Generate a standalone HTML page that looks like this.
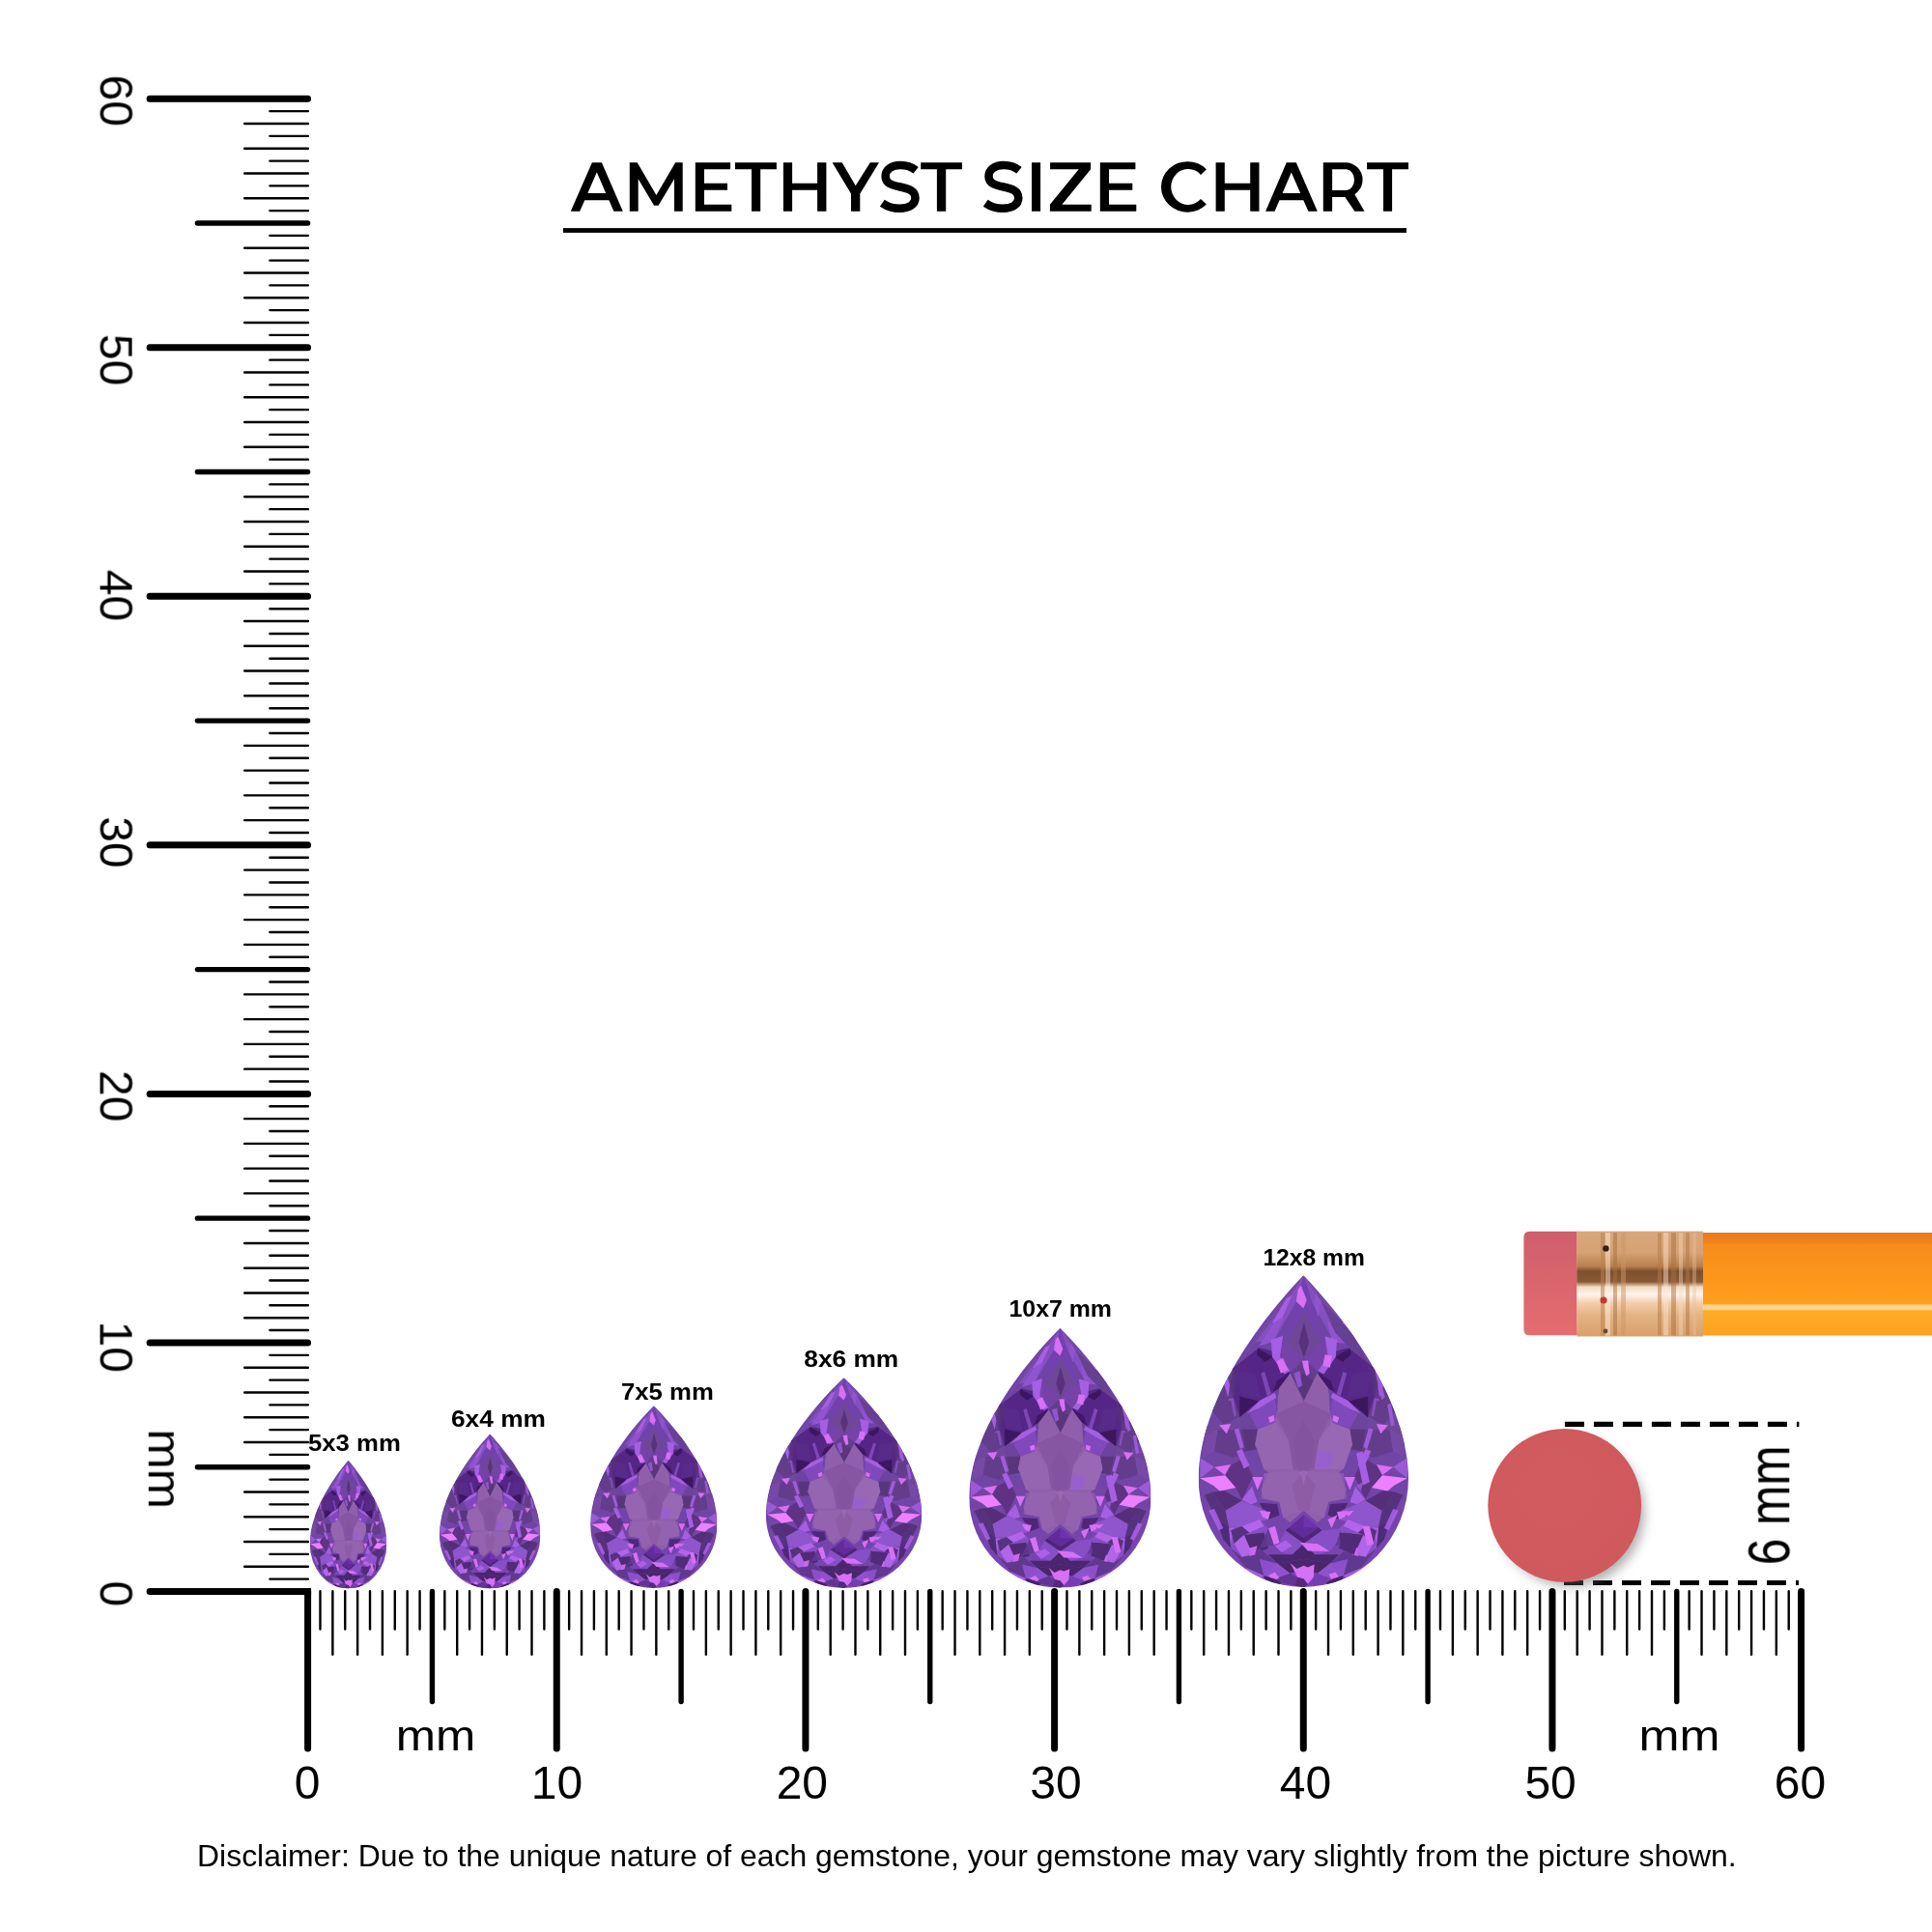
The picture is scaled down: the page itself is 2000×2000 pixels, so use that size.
<!DOCTYPE html>
<html lang="en"><head><meta charset="utf-8"><title>Amethyst Size Chart</title>
<style>
html,body{margin:0;padding:0;background:#fff}
body{width:2000px;height:2000px;overflow:hidden;font-family:"Liberation Sans",sans-serif}
svg{display:block}
</style></head><body>
<svg width="2000" height="2000" viewBox="0 0 2000 2000">
<rect width="2000" height="2000" fill="#fff"/>
<defs>
<linearGradient id="gbase" x1="0" y1="0" x2="0" y2="1"><stop offset="0" stop-color="#7042a8"/><stop offset="0.5" stop-color="#6f45a2"/><stop offset="1" stop-color="#7a44b2"/></linearGradient>
<filter id="gblur" x="-5%" y="-5%" width="110%" height="110%"><feGaussianBlur stdDeviation="0.7"/></filter>
<symbol id="gem" viewBox="0 0 217.4 322.8" preserveAspectRatio="none"><clipPath id="gclip"><path d="M108.7 0C156.7 50 216.4 132 217.4 210A108.7 112.8 0 0 1 108.7 322.8A108.7 112.8 0 0 1 0 210C1 132 60.7 50 108.7 0Z"/></clipPath><g clip-path="url(#gclip)"><rect width="217.4" height="322.8" fill="url(#gbase)"/><g filter="url(#gblur)"><polygon fill="#754aa2" points="109.2,-0 76.4,39.5 44.1,87.9 59,69.3 88.8,30.8"/><polygon fill="#754aa2" points="109.2,-0 141.9,39.5 174.2,87.9 159.3,69.3 129.5,30.8"/><polygon fill="#844fc0" points="109.2,-0 88.8,30.8 59,69.3 78.8,66.8 101.2,27.1"/><polygon fill="#844fc0" points="109.2,-0 129.5,30.8 159.3,69.3 139.5,66.8 117.1,27.1"/><polygon fill="#7340b0" points="109.2,-0 101.2,27.1 90.3,69.3 109.2,37"/><polygon fill="#7340b0" points="109.2,-0 117.1,27.1 128,69.3 109.2,37"/><polygon fill="#704798" points="109.2,37 127.9,69.3 109.2,86.1 90.3,69.3"/><polygon fill="#58337c" points="109.2,48.2 114.6,69.3 109.2,85.2 103.9,69.3"/><polygon fill="#d76ff3" points="106.2,10.3 112.1,25.8 108.7,34.3 101.2,27.1 103.1,14.6"/><polygon fill="#a55fe2" points="91.3,23.3 97,20.9 84.8,48.2 76.4,49.4"/><polygon fill="#9253cf" points="78.8,48.2 89.5,42 76.6,69.3 62.7,73"/><polygon fill="#9253cf" points="121.1,18.4 126.8,27.1 124.3,43.2 119.8,30.8"/><polygon fill="#9253cf" points="132.3,43.2 141.7,59.4 152.4,70.5 138.5,69.3"/><polygon fill="#d76ff3" points="146.9,50.4 153.6,45.9 155.4,48.9 148.7,53.7"/><polygon fill="#663f92" points="127.3,27.1 159.6,59.4 174.5,89.2 152.1,70.5 141.7,59.4"/><polygon fill="#7443a8" points="90.3,69.3 109.2,86.1 94.7,101.6 78.8,79.2"/><polygon fill="#7443a8" points="128,69.3 109.2,86.1 123.6,101.6 139.5,79.2"/><polygon fill="#552785" points="35.1,96.9 62.7,75 79.1,79 95.2,100.4 81.6,125.5 76.4,123.7 62.7,130.7 42.6,147.3 34.4,126.4"/><polygon fill="#552785" points="183.2,96.9 155.6,75 139.2,79 123.1,100.4 136.7,125.5 141.9,123.7 155.6,130.7 175.7,147.3 183.9,126.4"/><polygon fill="#3e175f" points="61.4,75.8 77.1,84.5 68.9,89.9 60.5,82"/><polygon fill="#3e175f" points="156.9,75.8 141.2,84.5 149.4,89.9 157.8,82"/><polygon fill="#3e175f" points="42.6,125.5 62.7,130.2 42.8,147.1"/><polygon fill="#3e175f" points="175.7,125.5 155.6,130.2 175.5,147.1"/><polygon fill="#3e175f" opacity="0.8" points="81.3,109.1 95,100.4 81.3,125.2 76.4,123.3"/><polygon fill="#3e175f" opacity="0.8" points="137,109.1 123.3,100.4 137,125.2 141.9,123.3"/><polygon fill="#643197" opacity="0.3" points="39.1,99.1 59,101.6 63.9,127.7 44.1,124"/><polygon fill="#643197" opacity="0.3" points="179.2,99.1 159.3,101.6 154.4,127.7 174.2,124"/><polygon fill="#a55fe2" points="75.1,66.8 87.5,62.5 84.4,84.2 95,99.1 88.8,102.2 76.4,84.2"/><polygon fill="#d76ff3" points="80.7,89.2 87.5,85.7 92.8,97.9 85.3,101.6"/><polygon fill="#a55fe2" points="143.4,66.8 131,63.1 134.1,84.2 123.6,99.1 129.8,102.2 142.2,84.2"/><polygon fill="#d76ff3" points="131,82 138.5,83.2 136.2,95.6 128.8,93.2"/><polygon fill="#9253cf" opacity="0.7" points="64.7,101.6 68.4,99.6 75.6,123.3 71.4,125.9"/><polygon fill="#9253cf" opacity="0.7" points="153.6,101.6 149.9,99.6 142.7,123.3 146.9,125.9"/><polygon fill="#643d8b" points="109.2,86.1 124.8,101.6 109.2,130.2 94.7,101.6"/><polygon fill="#5a367c" points="109.2,101.6 118.6,109.1 109.2,128.9 100,109.1"/><polygon fill="#d76ff3" points="107.4,88.2 113.6,88.2 115.1,101.6 111.8,104.3 108.7,95.4"/><polygon fill="#9253cf" points="98.7,101.6 104.9,99.1 107.4,114 103.1,116.5"/><polygon fill="#643d8b" points="19.8,115.3 37.2,97.9 36.6,125.2 42.8,146.3 26.7,155 13.6,140.1"/><polygon fill="#643d8b" points="198.5,115.3 181.1,97.9 181.7,125.2 175.5,146.3 191.6,155 204.7,140.1"/><polygon fill="#a55fe2" points="25.4,109.1 30.6,106.6 35.6,126.4 31.9,130.2"/><polygon fill="#a55fe2" points="192.9,109.1 187.7,106.6 182.7,126.4 186.4,130.2"/><polygon fill="#9253cf" opacity="0.8" points="31,115.3 33.6,114 39.3,145.1 36.9,146.6"/><polygon fill="#9253cf" opacity="0.8" points="187.3,115.3 184.7,114 179,145.1 181.4,146.6"/><polygon fill="#704798" points="8,155.6 26.7,155 42.8,146.3 41.6,166.2 20.5,183.6 4.3,176.1"/><polygon fill="#704798" points="210.3,155.6 191.6,155 175.5,146.3 176.7,166.2 197.8,183.6 214,176.1"/><polygon fill="#6e429f" points="41.5,148.1 63.2,129.9 83.1,117.4 81.4,143.6 78,152.7 61.5,159.5 45,159.5"/><polygon fill="#6e429f" points="176.4,148.1 154.8,129.9 134.8,117.4 136.5,143.6 139.9,152.7 156.5,159.5 173,159.5"/><polygon fill="#844cc2" opacity="0.8" points="52.9,143.6 79.1,127.6 81.4,143.6 78,152.7 61.5,159.5"/><polygon fill="#844cc2" opacity="0.8" points="165,143.6 138.8,127.6 136.5,143.6 139.9,152.7 156.5,159.5"/><polygon fill="#a55fe2" points="49.5,143.6 63.2,129.9 79.1,121.9 80.8,126.5 63.2,137.3"/><polygon fill="#a55fe2" points="168.4,143.6 154.8,129.9 138.8,121.9 137.1,126.5 154.8,137.3"/><polygon fill="#d76ff3" points="72.3,147 78,144.7 79.1,150.4 74,152.7"/><polygon fill="#d76ff3" points="145.6,147 139.9,144.7 138.8,150.4 143.9,152.7"/><polygon fill="#5a367c" points="45,159.5 61.5,159.5 58.6,175.5 61.5,180 48.4,182.3"/><polygon fill="#5a367c" points="173,159.5 156.5,159.5 159.3,175.5 156.5,180 169.6,182.3"/><polygon fill="#643d8b" points="19.9,159.5 45,159.5 48.4,182.3 37,189.1 16.5,182.3"/><polygon fill="#643d8b" points="198,159.5 173,159.5 169.6,182.3 180.9,189.1 201.5,182.3"/><polygon fill="#7749a6" points="6.2,166.4 19.9,159.5 16.5,182.3 4,189.1"/><polygon fill="#7749a6" points="211.7,166.4 198,159.5 201.5,182.3 214,189.1"/><polygon fill="#d76ff3" points="21.6,155 33.6,153.8 29.2,164.1"/><polygon fill="#d76ff3" points="196.3,155 184.4,153.8 188.7,164.1"/><polygon fill="#a55fe2" opacity="0.9" points="37,159.5 41.8,158.4 47.2,177.7 43.2,180"/><polygon fill="#a55fe2" opacity="0.9" points="180.9,159.5 176.2,158.4 170.7,177.7 174.7,180"/><polygon fill="#905fac" points="109,130.5 95.1,101.4 83.1,117.4 81.4,143.6 78,152.7 61.5,159.5 58.6,175.5 61.5,180 67.7,200.5 72.3,203.9 64.9,222.2 64.9,222.2 67.7,231.3 83.7,234.5 87.7,250.4 94.8,255.9 109,243.6 123.1,255.9 130.3,250.4 134.3,234.5 150.2,231.3 153,222.2 153,222.2 145.6,203.9 150.2,200.5 156.5,180 159.3,175.5 156.5,159.5 139.9,152.7 136.5,143.6 134.8,117.4 122.9,101.4"/><polygon fill="#8756a3" points="109,130.5 137.8,143.6 124.7,170.9 120.1,200.5 109,203.9 97.9,200.5 93.4,170.9 80.3,143.6"/><polygon fill="#7b489a" opacity="0.3" points="109,150.4 120.1,170.9 116.7,198.3 109,203.4 101.3,198.3 97.9,170.9"/><polygon fill="#9969b6" opacity="0.6" points="61.5,159.5 80.3,152.7 93.4,170.9 97.9,200.5 67.7,200.5 58.6,175.5"/><polygon fill="#9969b6" opacity="0.9" points="156.6,159.5 137.8,152.7 124.7,170.9 120.1,200.5 150.3,200.5 159.4,175.5"/><polygon fill="#995fd2" opacity="0.8" points="124.7,180 140.1,186.9 134.4,200.5 120.1,200.5"/><polygon fill="#9766b3" opacity="0.6" points="67.7,204.9 109,202.6 150.3,204.9 153.2,231.1 134.9,234.5 130.4,250.4 109,243.6 87.7,250.4 83.7,234.5 64.9,231.1"/><polygon fill="#89579f" opacity="0.6" points="109,202.6 121.3,217.4 114.4,243.6 109,244.7 103.6,243.6 96.8,217.4"/><polygon fill="#a070bb" opacity="0.6" points="105.3,203.7 109,201.4 112.7,203.7 109,217.4"/><polygon fill="#622c9a" points="109,248.1 124.7,261.2 109,271.5 93.4,261.2"/><polygon fill="#7739ba" opacity="0.6" points="109,248.1 124.7,261.2 109,260.9"/><polygon fill="#4e277a" points="93.4,261.2 109,271.5 124.7,261.2 127.9,264.3 109,277.7 90.2,264.3"/><polygon fill="#a55fe2" opacity="0.8" points="1.7,188.9 16.5,198.6 1.7,210"/><polygon fill="#a55fe2" opacity="0.8" points="216.3,188.9 201.5,198.6 216.3,210"/><polygon fill="#d76ff3" points="16.5,198.6 33.6,195.7 27.4,206.7"/><polygon fill="#d76ff3" points="201.5,198.6 184.4,195.7 190.5,206.7"/><polygon fill="#ec80ff" points="1.7,210 27.9,207.1 38.8,219.7 22.2,223.3 15.3,217.6"/><polygon fill="#ec80ff" points="216.3,210 190.1,207.1 179.1,219.7 195.8,223.3 202.6,217.6"/><polygon fill="#542f7a" points="14.2,224.2 26.7,223.1 45.2,233.3 27.9,243.8"/><polygon fill="#542f7a" points="203.7,224.2 191.2,223.1 172.7,233.3 190.1,243.8"/><polygon fill="#5f3383" points="33.6,196.9 47.2,188.9 56.3,208.3 45,232.2 38.8,219.7 27.9,207.1"/><polygon fill="#5f3383" points="184.4,196.9 170.7,188.9 161.6,208.3 173,232.2 179.1,219.7 190.1,207.1"/><polygon fill="#a55fe2" points="39.3,182.1 45,179.8 52.9,196.9 47.2,200.3"/><polygon fill="#a55fe2" points="178.7,182.1 173,179.8 165,196.9 170.7,200.3"/><polygon fill="#d76ff3" points="55.8,208.8 66.8,208.8 61.1,222.2"/><polygon fill="#d76ff3" points="162.2,208.8 151.1,208.8 156.8,222.2"/><polygon fill="#a55fe2" points="45,232.4 55.4,218.5 61.1,234.7 54.1,237"/><polygon fill="#a55fe2" points="173,232.4 162.5,218.5 156.8,234.7 163.9,237"/><polygon fill="#4f2878" points="63.2,235.6 81.6,236.7 83.9,248.4 72.3,252.9"/><polygon fill="#4f2878" points="154.8,235.6 136.3,236.7 134,248.4 145.6,252.9"/><polygon fill="#8f55cc" points="27.9,243.8 45.2,233.3 70,243.6 72.3,252.9 45,259.8 31.3,259.8"/><polygon fill="#8f55cc" points="190.1,243.8 172.7,233.3 147.9,243.6 145.6,252.9 173,259.8 186.6,259.8"/><polygon fill="#d76ff3" points="63.2,243.6 74.6,244.9 72.3,252.9 66.6,250.4"/><polygon fill="#d76ff3" points="154.8,243.6 143.4,244.9 145.6,252.9 151.3,250.4"/><polygon fill="#56307c" points="6.2,227.6 14.2,224.2 27.9,243.8 31.3,259.8 18.8,252.7"/><polygon fill="#56307c" points="211.7,227.6 203.7,224.2 190.1,243.8 186.6,259.8 199.2,252.7"/><polygon fill="#d76ff3" points="72.3,262 79.4,259.5 83.9,276.8 78,279.1"/><polygon fill="#d76ff3" points="133.8,252.7 144,248.1 137.8,261.8"/><polygon fill="#d76ff3" points="148.6,245.3 161.1,243.6 155.4,249.3"/><polygon fill="#8950c6" opacity="0.9" points="30.2,259.8 45,259.8 63.2,252.9 72.3,262 78,279.1 63.2,282.5 45,291.6 33.6,282.5"/><polygon fill="#8950c6" opacity="0.9" points="187.8,259.8 173,259.8 154.8,252.9 145.6,262 139.9,279.1 154.8,282.5 173,291.6 184.4,282.5"/><polygon fill="#502c74" points="47.2,268.9 68,266.4 72.5,282.5 56.3,289.4"/><polygon fill="#502c74" points="170.7,268.9 150,266.4 145.4,282.5 161.6,289.4"/><polygon fill="#a55fe2" points="31.3,261.8 37,260.7 33.6,277.7 30.2,275.5"/><polygon fill="#a55fe2" points="186.6,261.8 180.9,260.7 184.4,277.7 187.8,275.5"/><polygon fill="#874fc4" points="83.9,276.8 90.2,264.3 109,277.7 97.3,289.1 86,286.9"/><polygon fill="#874fc4" points="134,276.8 127.8,264.3 109,277.7 120.6,289.1 132,286.9"/><polygon fill="#4a276e" points="72.3,289.1 97.3,289.1 109,277.7 120.6,289.1 145.6,289.1 136.1,298.3 109,293.7 81.9,298.3"/><polygon fill="#d76ff3" points="105.3,276.6 124.1,278 136.1,285.7 113.3,285.2"/><polygon fill="#ac5fe8" points="79.1,280 90.5,274.3 97.3,280 86,286.9"/><polygon fill="#613890" points="33.6,282.5 45,291.6 63.2,282.5 81.9,298.3 67.7,310.8 49.5,302.8"/><polygon fill="#613890" points="184.4,282.5 173,291.6 154.8,282.5 136.1,298.3 150.2,310.8 168.4,302.8"/><polygon fill="#9253cf" opacity="0.9" points="63.2,293.7 81.9,298.3 95.1,308.5 79.1,314.2 67.7,310.8"/><polygon fill="#9253cf" opacity="0.9" points="154.8,293.7 136.1,298.3 122.9,308.5 138.8,314.2 150.2,310.8"/><polygon fill="#49266c" points="81.9,298.3 109,293.7 136.1,298.3 122.9,308.5 109,303.9 95.1,308.5"/><polygon fill="#d76ff3" points="95.1,297.7 101.9,303.9 109,300.5 113.3,302.2 120.1,299.4 119,313.1 113.3,319.9 109,314.2 102.5,312.5"/><polygon fill="#522a7c" points="102.5,312.5 109,314.2 113.3,319.9 109,323.5 99.6,321"/><polygon fill="#743eb2" points="119,313.1 122.9,308.5 136.1,314.2 124.7,321 113.3,319.9"/><polygon fill="#633693" points="79.1,314.2 95.1,308.5 102.5,312.5 99.6,321 86,318.2"/><polygon fill="#d76ff3" points="72.3,310.8 79.1,307.4 83.7,313.1 78,316.5"/><polygon fill="#d76ff3" points="134.9,309.6 141.8,307.4 145.2,311.9 138.4,316.5"/><polygon fill="#57307e" points="33.6,264.1 45,259.8 52.9,266.4 47.2,268.9 37,277.7"/><polygon fill="#57307e" points="184.4,264.1 173,259.8 165,266.4 170.7,268.9 180.9,277.7"/><polygon fill="#b365ea" points="45,259.8 63.2,252.9 67.7,259.5 52.9,266.4"/><polygon fill="#b365ea" points="173,259.8 154.8,252.9 150.2,259.5 165,266.4"/><polygon fill="#613790" opacity="0.9" points="63.2,282.5 72.3,262 78,279.1"/><polygon fill="#613790" opacity="0.9" points="154.8,282.5 145.6,262 139.9,279.1"/><polygon fill="#d76ff3" opacity="0.9" points="52.9,282.3 60.9,280 58.6,289.1 52.9,290.8"/><polygon fill="#d76ff3" opacity="0.9" points="165,282.3 157,280 159.3,289.1 165,290.8"/><polygon fill="#bb6cf0" opacity="0.8" points="37,277.7 47.2,268.9 56.3,289.4 45,291.6"/><polygon fill="#bb6cf0" opacity="0.8" points="180.9,277.7 170.7,268.9 161.6,289.4 173,291.6"/><polygon fill="#502b78" points="18.8,252.7 31.3,259.8 33.6,282.5 25.6,273.2"/><polygon fill="#502b78" points="199.2,252.7 186.6,259.8 184.4,282.5 192.3,273.2"/><polygon fill="#a55fe2" opacity="0.9" points="10.8,243.6 16.5,241.9 25.6,261.8 21,264.1"/><polygon fill="#a55fe2" opacity="0.9" points="207.1,243.6 201.5,241.9 192.3,261.8 196.9,264.1"/><polygon fill="#a75fe4" opacity="0.9" points="49.5,302.8 67.7,310.8 63.2,315.3 48.4,307.4"/><polygon fill="#a75fe4" opacity="0.9" points="168.4,302.8 150.2,310.8 154.8,315.3 169.6,307.4"/><polygon fill="#452468" points="67.7,310.8 79.1,314.2 86,318.2 79.1,323.5 70,318.2"/><polygon fill="#452468" points="150.2,310.8 138.8,314.2 132,318.2 138.8,323.5 147.9,318.2"/><polygon fill="#d76ff3" points="170.2,259.8 177.1,259.5 181.6,277.7 174.8,280"/><polygon fill="#512a78" points="146.3,266.6 168,268.6 161.1,289.4 147.5,282.5"/><polygon fill="#864fc6" points="127.9,264.3 147.5,262 143.1,276.6 136.1,285.7 124.1,278"/><polygon fill="#a55fe2" points="163.4,184.4 170.2,182.1 177.3,214 170.2,217.4"/><polygon fill="#9253cf" points="163.4,217.6 170.5,214 168.2,223.3"/><polygon fill="#9a5ad8" points="183.2,101.6 186.3,99.1 193.1,126.4 189.6,128.9"/><polygon fill="#9a5ad8" points="195.6,133.9 199.3,132.7 203.1,155 199.3,156.3"/><polygon fill="#552f7c" opacity="0.8" points="174.5,89.2 183.2,101.6 188.2,128.9 180.7,126.4"/><polygon fill="#552f7c" opacity="0.8" points="43.8,89.2 35.1,101.6 30.1,128.9 37.6,126.4"/></g></g></symbol>
<filter id="dshadow" x="-30%" y="-30%" width="170%" height="170%"><feGaussianBlur stdDeviation="6"/></filter>
<radialGradient id="dotg" cx="0.45" cy="0.4" r="0.6"><stop offset="0" stop-color="#d15c60"/><stop offset="1" stop-color="#cf595d"/></radialGradient>
<linearGradient id="erg" x1="0" y1="0" x2="0" y2="1"><stop offset="0" stop-color="#cd5f6a"/><stop offset="0.45" stop-color="#d9646c"/><stop offset="1" stop-color="#e36d70"/></linearGradient>
<linearGradient id="feg" x1="0" y1="0" x2="0" y2="1"><stop offset="0" stop-color="#d9a77c"/><stop offset="0.2" stop-color="#d6a274"/><stop offset="0.33" stop-color="#b9824f"/><stop offset="0.38" stop-color="#7e4f2c"/><stop offset="0.48" stop-color="#8a5a36"/><stop offset="0.53" stop-color="#f6dcc4"/><stop offset="0.6" stop-color="#fff4ea"/><stop offset="0.68" stop-color="#f3cfae"/><stop offset="0.8" stop-color="#e4b283"/><stop offset="1" stop-color="#d9a06c"/></linearGradient>
<linearGradient id="pbg" x1="0" y1="0" x2="0" y2="1"><stop offset="0" stop-color="#e87a1e"/><stop offset="0.1" stop-color="#f0841d"/><stop offset="0.12" stop-color="#f68d1c"/><stop offset="0.55" stop-color="#fe991b"/><stop offset="0.69" stop-color="#ff9f1e"/><stop offset="0.705" stop-color="#ffd08a"/><stop offset="0.745" stop-color="#ffd596"/><stop offset="0.76" stop-color="#ffab25"/><stop offset="1" stop-color="#fda31f"/></linearGradient>
</defs>
<g fill="none" stroke="#000" stroke-linecap="round"><path stroke-width="2.4" d="M279.4 1634.62H318.9M331.48 1647.2V1686.5M279.4 1608.87H318.9M357.25 1647.2V1686.5M279.4 1583.11H318.9M383.02 1647.2V1686.5M279.4 1557.36H318.9M408.78 1647.2V1686.5M279.4 1531.6H318.9M434.55 1647.2V1686.5M279.4 1505.85H318.9M460.32 1647.2V1686.5M279.4 1480.09H318.9M486.08 1647.2V1686.5M279.4 1454.34H318.9M511.85 1647.2V1686.5M279.4 1428.58H318.9M537.62 1647.2V1686.5M279.4 1402.83H318.9M563.38 1647.2V1686.5M279.4 1377.07H318.9M589.15 1647.2V1686.5M279.4 1351.32H318.9M614.92 1647.2V1686.5M279.4 1325.56H318.9M640.68 1647.2V1686.5M279.4 1299.81H318.9M666.45 1647.2V1686.5M279.4 1274.05H318.9M692.22 1647.2V1686.5M279.4 1248.3H318.9M717.98 1647.2V1686.5M279.4 1222.54H318.9M743.75 1647.2V1686.5M279.4 1196.79H318.9M769.52 1647.2V1686.5M279.4 1171.03H318.9M795.28 1647.2V1686.5M279.4 1145.28H318.9M821.05 1647.2V1686.5M279.4 1119.52H318.9M846.82 1647.2V1686.5M279.4 1093.77H318.9M872.58 1647.2V1686.5M279.4 1068.01H318.9M898.35 1647.2V1686.5M279.4 1042.26H318.9M924.12 1647.2V1686.5M279.4 1016.5H318.9M949.88 1647.2V1686.5M279.4 990.75H318.9M975.65 1647.2V1686.5M279.4 964.99H318.9M1001.42 1647.2V1686.5M279.4 939.24H318.9M1027.18 1647.2V1686.5M279.4 913.48H318.9M1052.95 1647.2V1686.5M279.4 887.73H318.9M1078.72 1647.2V1686.5M279.4 861.97H318.9M1104.48 1647.2V1686.5M279.4 836.22H318.9M1130.25 1647.2V1686.5M279.4 810.46H318.9M1156.02 1647.2V1686.5M279.4 784.71H318.9M1181.78 1647.2V1686.5M279.4 758.95H318.9M1207.55 1647.2V1686.5M279.4 733.2H318.9M1233.32 1647.2V1686.5M279.4 707.44H318.9M1259.08 1647.2V1686.5M279.4 681.69H318.9M1284.85 1647.2V1686.5M279.4 655.93H318.9M1310.62 1647.2V1686.5M279.4 630.18H318.9M1336.38 1647.2V1686.5M279.4 604.42H318.9M1362.15 1647.2V1686.5M279.4 578.67H318.9M1387.92 1647.2V1686.5M279.4 552.91H318.9M1413.68 1647.2V1686.5M279.4 527.16H318.9M1439.45 1647.2V1686.5M279.4 501.4H318.9M1465.22 1647.2V1686.5M279.4 475.65H318.9M1490.98 1647.2V1686.5M279.4 449.89H318.9M1516.75 1647.2V1686.5M279.4 424.14H318.9M1542.52 1647.2V1686.5M279.4 398.38H318.9M1568.28 1647.2V1686.5M279.4 372.63H318.9M1594.05 1647.2V1686.5M279.4 346.87H318.9M1619.82 1647.2V1686.5M279.4 321.12H318.9M1645.58 1647.2V1686.5M279.4 295.36H318.9M1671.35 1647.2V1686.5M279.4 269.61H318.9M1697.12 1647.2V1686.5M279.4 243.85H318.9M1722.88 1647.2V1686.5M279.4 218.1H318.9M1748.65 1647.2V1686.5M279.4 192.34H318.9M1774.42 1647.2V1686.5M279.4 166.59H318.9M1800.18 1647.2V1686.5M279.4 140.83H318.9M1825.95 1647.2V1686.5M279.4 115.08H318.9M1851.72 1647.2V1686.5"/><path stroke-width="2.4" d="M253.2 1621.74H318.9M344.37 1647.2V1712.8M253.2 1595.99H318.9M370.13 1647.2V1712.8M253.2 1570.23H318.9M395.9 1647.2V1712.8M253.2 1544.48H318.9M421.67 1647.2V1712.8M253.2 1492.97H318.9M473.2 1647.2V1712.8M253.2 1467.21H318.9M498.97 1647.2V1712.8M253.2 1441.46H318.9M524.73 1647.2V1712.8M253.2 1415.7H318.9M550.5 1647.2V1712.8M253.2 1364.19H318.9M602.03 1647.2V1712.8M253.2 1338.44H318.9M627.8 1647.2V1712.8M253.2 1312.68H318.9M653.57 1647.2V1712.8M253.2 1286.93H318.9M679.33 1647.2V1712.8M253.2 1235.42H318.9M730.87 1647.2V1712.8M253.2 1209.66H318.9M756.63 1647.2V1712.8M253.2 1183.91H318.9M782.4 1647.2V1712.8M253.2 1158.15H318.9M808.17 1647.2V1712.8M253.2 1106.64H318.9M859.7 1647.2V1712.8M253.2 1080.89H318.9M885.47 1647.2V1712.8M253.2 1055.13H318.9M911.23 1647.2V1712.8M253.2 1029.38H318.9M937 1647.2V1712.8M253.2 977.87H318.9M988.53 1647.2V1712.8M253.2 952.12H318.9M1014.3 1647.2V1712.8M253.2 926.36H318.9M1040.07 1647.2V1712.8M253.2 900.61H318.9M1065.83 1647.2V1712.8M253.2 849.1H318.9M1117.37 1647.2V1712.8M253.2 823.34H318.9M1143.13 1647.2V1712.8M253.2 797.59H318.9M1168.9 1647.2V1712.8M253.2 771.83H318.9M1194.67 1647.2V1712.8M253.2 720.32H318.9M1246.2 1647.2V1712.8M253.2 694.57H318.9M1271.97 1647.2V1712.8M253.2 668.81H318.9M1297.73 1647.2V1712.8M253.2 643.06H318.9M1323.5 1647.2V1712.8M253.2 591.55H318.9M1375.03 1647.2V1712.8M253.2 565.79H318.9M1400.8 1647.2V1712.8M253.2 540.04H318.9M1426.57 1647.2V1712.8M253.2 514.28H318.9M1452.33 1647.2V1712.8M253.2 462.77H318.9M1503.87 1647.2V1712.8M253.2 437.02H318.9M1529.63 1647.2V1712.8M253.2 411.26H318.9M1555.4 1647.2V1712.8M253.2 385.51H318.9M1581.17 1647.2V1712.8M253.2 334H318.9M1632.7 1647.2V1712.8M253.2 308.24H318.9M1658.47 1647.2V1712.8M253.2 282.49H318.9M1684.23 1647.2V1712.8M253.2 256.73H318.9M1710 1647.2V1712.8M253.2 205.22H318.9M1761.53 1647.2V1712.8M253.2 179.47H318.9M1787.3 1647.2V1712.8M253.2 153.71H318.9M1813.07 1647.2V1712.8M253.2 127.96H318.9M1838.83 1647.2V1712.8"/><path stroke-width="5.4" d="M204.4 1518.72H318.6M447.43 1647.5V1761.6M204.4 1261.17H318.6M705.1 1647.5V1761.6M204.4 1003.62H318.6M962.77 1647.5V1761.6M204.4 746.08H318.6M1220.43 1647.5V1761.6M204.4 488.53H318.6M1478.1 1647.5V1761.6M204.4 230.98H318.6M1735.77 1647.5V1761.6"/><path stroke-width="7" d="M155.1 1647.5H318.6M318.6 1647.5V1810M155.1 1389.95H318.6M576.27 1647.5V1810M155.1 1132.4H318.6M833.93 1647.5V1810M155.1 874.85H318.6M1091.6 1647.5V1810M155.1 617.3H318.6M1349.27 1647.5V1810M155.1 359.75H318.6M1606.93 1647.5V1810M155.1 102.2H318.6M1864.6 1647.5V1810"/></g><rect x="315.1" y="1644" width="7" height="7" fill="#000"/>
<g font-family="'Liberation Sans', sans-serif" font-size="48" fill="#000" text-anchor="middle" opacity="0.999"><text x="318.2" y="1861.6">0</text><text x="576.47" y="1861.6">10</text><text x="830.33" y="1861.6">20</text><text x="1093" y="1861.6">30</text><text x="1351.47" y="1861.6">40</text><text x="1605.13" y="1861.6">50</text><text x="1863.5" y="1861.6">60</text><text transform="translate(103.6 1649.7) rotate(90)">0</text><text transform="translate(103.6 1394.3) rotate(90)">10</text><text transform="translate(103.6 1134.7) rotate(90)">20</text><text transform="translate(103.6 871.9) rotate(90)">30</text><text transform="translate(103.6 616.5) rotate(90)">40</text><text transform="translate(103.6 372.6) rotate(90)">50</text><text transform="translate(103.6 104.3) rotate(90)">60</text></g>
<g font-family="'Liberation Sans', sans-serif" fill="#000" text-anchor="middle" opacity="0.999"><text font-size="45" transform="translate(451 1811.6) scale(1.1 1)">mm</text><text font-size="45" transform="translate(1738.5 1811.8) scale(1.12 1)">mm</text><text font-size="48" transform="translate(153.8 1520.7) rotate(90) scale(1.03 1)">mm</text><text font-size="62" transform="translate(1852.3 1558.3) rotate(-90) scale(0.8 1)">6 mm</text></g>
<path fill="#000" fill-rule="evenodd" d="M590.8 218.8L612.9 168.2L622.9 168.2L644.8 218.8L635.4 218.8L630.4 207.2L605.3 207.2L600.2 218.8ZM608.4 199.9L617.8 178.3L627.2 199.9ZM651.8 218.8L651.8 168.2L659.7 168.2L679.4 202L699.2 168.2L706.7 168.2L706.7 218.8L698 218.8L698 185.2L681.6 212.8L677.1 212.8L660.7 185.2L660.7 218.8ZM719.8 168.2L756.1 168.2L756.1 175.3L729 175.3L729 189.7L753 189.7L753 196.8L729 196.8L729 211.7L757.3 211.7L757.3 218.8L719.8 218.8ZM761 168.2L803.9 168.2L803.9 175.3L787.2 175.3L787.2 218.8L778 218.8L778 175.3L761 175.3ZM810.9 168.2L820.1 168.2L820.1 189.7L846.1 189.7L846.1 168.2L855.4 168.2L855.4 218.8L846.1 218.8L846.1 196.8L820.1 196.8L820.1 218.8L810.9 218.8ZM861.6 168.2L871.7 168.2L885.7 192.3L900.8 168.2L910 168.2L890.3 200.5L890.3 218.8L881 218.8L881 200.5ZM953.2 168.2L995.9 168.2L995.9 175.3L979.2 175.3L979.2 218.8L969.9 218.8L969.9 175.3L953.2 175.3ZM1068 168.2L1077.1 168.2L1077.1 218.8L1068 218.8ZM1087.1 168.2L1129.1 168.2L1129.1 175.3L1099.4 211.7L1129.7 211.7L1129.7 218.8L1086.9 218.8L1086.9 211.7L1116.7 175.3L1087.1 175.3ZM1138.8 168.2L1175.4 168.2L1175.4 175.3L1148 175.3L1148 189.7L1172.3 189.7L1172.3 196.8L1148 196.8L1148 211.7L1176.3 211.7L1176.3 218.8L1138.8 218.8ZM1248.9 175.3A27.2 26.25 0 1 0 1248.9 211.5L1243 205.9A17.7 18.5 0 1 1 1243 180.9ZM1258.6 168.2L1267.8 168.2L1267.8 189.7L1294.2 189.7L1294.2 168.2L1303.5 168.2L1303.5 218.8L1294.2 218.8L1294.2 196.8L1267.8 196.8L1267.8 218.8L1258.6 218.8ZM1310.1 218.8L1331.8 168.2L1341.8 168.2L1363.8 218.8L1354.4 218.8L1349.3 207.2L1324.5 207.2L1319.5 218.8ZM1327.6 199.9L1336.8 178.4L1346.2 199.9ZM1369.8 168.2H1394A17.9 17.9 0 0 1 1394 203.9H1379.1V218.8H1369.8ZM1379.1 197H1394A8.8 10.9 0 0 0 1394 175.3H1379.1ZM1415 168.2L1458 168.2L1458 175.3L1441.1 175.3L1441.1 218.8L1432 218.8L1432 175.3L1415 175.3Z"/><path fill="#000" d="M1391 202L1401.5 199.8L1412.5 218.8L1402.4 218.8Z"/><path fill="none" stroke="#000" stroke-width="8.5" d="M948.1 176.2C944.1 173 938.6 171 932 171C923 171 916.6 175.4 916.6 182.4C916.6 189.8 923.5 191.8 932 193.5C940.8 195.3 947.5 197.6 947.5 205C947.5 211.9 940.5 215.8 931.5 215.8C924.3 215.8 917.6 213.2 913.3 210.2M1055 176.2C1051 173 1045.5 171 1038.9 171C1029.9 171 1023.5 175.4 1023.5 182.4C1023.5 189.8 1030.4 191.8 1038.9 193.5C1047.7 195.3 1054.3 197.6 1054.3 205C1054.3 211.9 1047.4 215.8 1038.4 215.8C1031.2 215.8 1024.5 213.2 1020.2 210.2"/><rect x="583" y="236.1" width="873" height="4.8" fill="#000"/>
<text font-family="'Liberation Sans', sans-serif" font-size="31.9" fill="#000" x="204.1" y="1932.4">Disclaimer: Due to the unique nature of each gemstone, your gemstone may vary slightly from the picture shown.</text>
<use href="#gem" x="320.7" y="1511.7" width="79.7" height="132.9"/><use href="#gem" x="454.9" y="1484.6" width="104.5" height="160"/><use href="#gem" x="611.1" y="1455.3" width="131.4" height="188.6"/><use href="#gem" x="792.8" y="1426.3" width="161.5" height="217.6"/><use href="#gem" x="1003.2" y="1374.9" width="188.4" height="268.8"/><use href="#gem" x="1240.6" y="1320.2" width="217.4" height="322.8"/>
<g font-family="'Liberation Sans', sans-serif" font-weight="700" font-size="23.4" fill="#000" opacity="0.999"><text x="319" y="1502" textLength="95.8" lengthAdjust="spacingAndGlyphs">5x3 mm</text><text x="467" y="1476.5" textLength="97.9" lengthAdjust="spacingAndGlyphs">6x4 mm</text><text x="643" y="1448.6" textLength="95.8" lengthAdjust="spacingAndGlyphs">7x5 mm</text><text x="832.3" y="1415.2" textLength="97.9" lengthAdjust="spacingAndGlyphs">8x6 mm</text><text x="1044.5" y="1363.1" textLength="106.5" lengthAdjust="spacingAndGlyphs">10x7 mm</text><text x="1307.4" y="1309.6" textLength="105.6" lengthAdjust="spacingAndGlyphs">12x8 mm</text></g>
<g stroke="#000" stroke-width="5.1" stroke-dasharray="20 10" fill="none"><path d="M1619.9 1474.4H1862.4"/><path d="M1619 1638.5H1862"/></g>
<circle cx="1626" cy="1566" r="76" fill="#6b6b6b" opacity="0.55" filter="url(#dshadow)"/><circle cx="1619.7" cy="1558.3" r="79.4" fill="url(#dotg)"/>
<path d="M1583.4 1274.8H1632.6V1382.3H1583.4Q1577.4 1382.3 1577.4 1376.3V1280.8Q1577.4 1274.8 1583.4 1274.8Z" fill="url(#erg)"/><rect x="1632.3" y="1274.6" width="131" height="108.9" fill="url(#feg)"/><rect x="1657" y="1276" width="4" height="106.5" fill="#b9814e" opacity="0.55"/><rect x="1662" y="1276" width="5" height="106.5" fill="#fff0e2" opacity="0.45"/><rect x="1670" y="1276" width="4" height="106.5" fill="#a8703f" opacity="0.5"/><rect x="1678" y="1276" width="5" height="106.5" fill="#c99566" opacity="0.5"/><rect x="1716" y="1276" width="4" height="106.5" fill="#b27a48" opacity="0.5"/><rect x="1722" y="1276" width="5" height="106.5" fill="#fbe6d2" opacity="0.45"/><rect x="1730" y="1276" width="5" height="106.5" fill="#a8703f" opacity="0.5"/><rect x="1738" y="1276" width="4" height="106.5" fill="#f6dcc2" opacity="0.4"/><rect x="1745" y="1276" width="4" height="106.5" fill="#b07744" opacity="0.5"/><rect x="1752" y="1276" width="4" height="106.5" fill="#e8c19c" opacity="0.4"/><circle cx="1662.4" cy="1292.4" r="3.2" fill="#3a1d14"/><circle cx="1660" cy="1346" r="3.6" fill="#c03a32"/><circle cx="1662" cy="1378" r="2.4" fill="#6a4a30"/><rect x="1763" y="1276" width="237" height="106.5" fill="url(#pbg)"/>
</svg>
</body></html>
